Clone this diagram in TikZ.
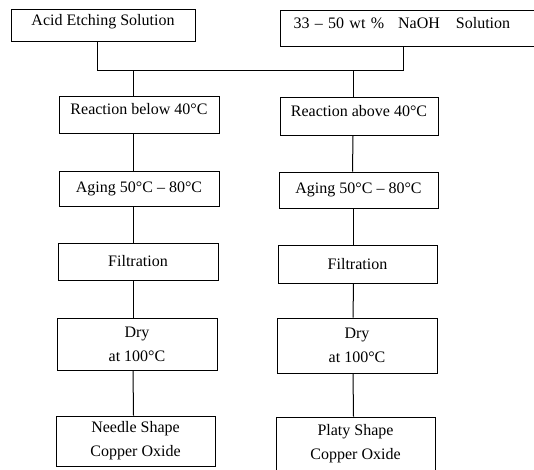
\documentclass[tikz,border=0pt]{standalone}
\usepackage{fontspec}
\setmainfont{Liberation Serif}

\begin{document}
\begin{tikzpicture}[x=1pt, y=-1pt, line width=1pt,
  stepbox/.style={draw, inner sep=2pt, align=center, font=\fontsize{16}{24}\selectfont},
  raised/.style={text depth=11pt}]
%\draw [help lines] (0,0) grid (534,469);
\useasboundingbox (0,0) rectangle (534,469);
\clip (0,0) rectangle (534,469);
\node [stepbox, raised, minimum width=184, minimum height=32] (acid) at (103,25) {Acid Etching Solution};
\node [stepbox, raised, anchor=west, align=left, text width=254, inner xsep=13, minimum height=36] (naoh) at (280,28) {33 -- 50 wt \%\hspace{14pt}NaOH\hspace{16pt}Solution};
\coordinate (bus) at (0,70);
\node [stepbox, raised, minimum width=160, minimum height=37] (react1) at (139,114.5) {Reaction below 40°C};
\node [stepbox, raised, minimum width=158, minimum height=38] (react2) at (359,116) {Reaction above 40°C};
\node [stepbox, minimum width=160, minimum height=35] (age1) at (139,188.5) {Aging 50°C -- 80°C};
\node [stepbox, minimum width=159, minimum height=36] (age2) at (358.5,190) {Aging 50°C -- 80°C};
\node [stepbox, minimum width=160, minimum height=37] (filt1) at (138,261.5) {Filtration};
\node [stepbox, minimum width=159, minimum height=38] (filt2) at (357.5,264) {Filtration};
\node [stepbox, minimum width=160, minimum height=52] (dry1) at (137,344) {Dry\\at 100°C};
\node [stepbox, minimum width=160, minimum height=55] (dry2) at (357,345.5) {Dry\\at 100°C};
\node [stepbox, minimum width=159, minimum height=50] (oxide1) at (135.5,441) {Needle Shape\\Copper Oxide};
\node [stepbox, minimum width=159, minimum height=53] (oxide2) at (355.5,443.5) {Platy Shape\\Copper Oxide};
\coordinate (feed) at ([xshift=-17pt]naoh.south);
\coordinate (drop1) at ([xshift=-6pt]react1.north);
\coordinate (drop2) at ([xshift=-6pt]react2.north);
% joining the two solutions
\draw ([xshift=-6pt]acid.south) |- (bus -| feed) -- (feed);
\draw (bus -| drop1) -- (drop1);
\draw (bus -| drop2) -- (drop2);
% left line
\draw ([xshift=-6pt]react1.south) -- ([xshift=-6pt]age1.north);
\draw ([xshift=-6pt]age1.south) -- ([xshift=-5pt]filt1.north);
\draw ([xshift=-5pt]filt1.south) -- ([xshift=-4pt]dry1.north);
\draw ([xshift=-4pt]dry1.south) -- ([xshift=-2pt]oxide1.north);
% right line
\draw ([xshift=-6pt]react2.south) -- ([xshift=-6pt]age2.north);
\draw ([xshift=-5pt]age2.south) -- ([xshift=-4pt]filt2.north);
\draw ([xshift=-4pt]filt2.south) -- ([xshift=-4pt]dry2.north);
\draw ([xshift=-4pt]dry2.south) -- ([xshift=-2pt]oxide2.north);
\end{tikzpicture}
\end{document}
